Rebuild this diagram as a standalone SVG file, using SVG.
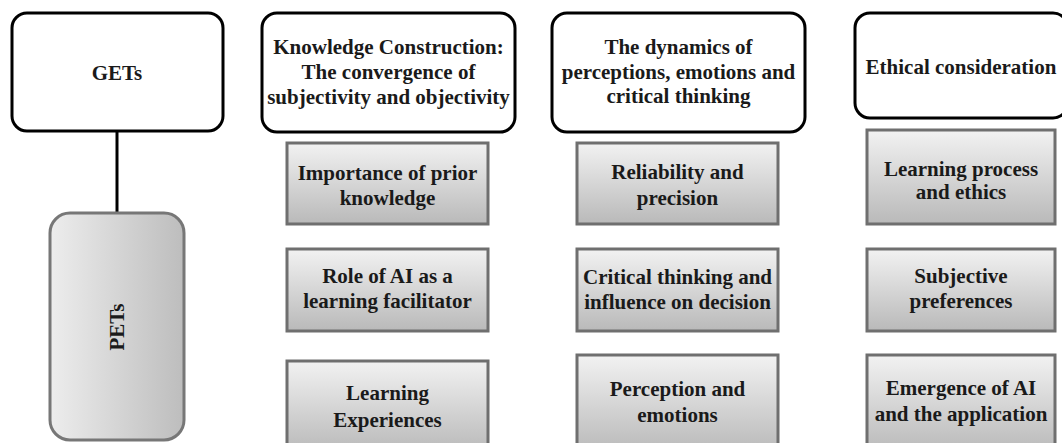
<svg xmlns="http://www.w3.org/2000/svg" width="1062" height="443" viewBox="0 0 1062 443">
  <defs>
    <linearGradient id="gradV" x1="0" y1="0" x2="0" y2="1">
      <stop offset="0" stop-color="#f2f2f2"/>
      <stop offset="1" stop-color="#b9b9b9"/>
    </linearGradient>
    <linearGradient id="gradH" x1="0" y1="0" x2="1" y2="0">
      <stop offset="0" stop-color="#ededed"/>
      <stop offset="1" stop-color="#bdbdbd"/>
    </linearGradient>
    <style>
      .head { fill: #ffffff; stroke: #000000; stroke-width: 3; }
      .item { fill: url(#gradV); stroke: #6f6f6f; stroke-width: 3; }
      .pets { fill: url(#gradH); stroke: #777777; stroke-width: 3; }
      .link { stroke: #000000; stroke-width: 3; fill: none; }
      text { font-family: "Liberation Serif", "Times New Roman", serif; font-weight: bold; font-size: 21px; fill: #1a1a1a; text-anchor: middle; }
    </style>
  </defs>
  <rect width="1062" height="443" fill="#ffffff"/>

  <!-- connectors -->
  <g id="connectors">
    <line class="link" x1="117" y1="131" x2="117" y2="213"/>
  </g>

  <!-- left stack -->
  <g id="gets">
    <rect class="head" x="12" y="13" width="211" height="118" rx="15"/>
    <text x="117" y="80">GETs</text>
  </g>
  <g id="pets">
    <rect class="pets" x="50" y="213" width="134" height="227" rx="20"/>
    <text x="0" y="0" font-size="19" transform="translate(124 327) rotate(-90)">PETs</text>
  </g>

  <!-- column: knowledge construction -->
  <g id="head-knowledge">
    <rect class="head" x="262" y="13" width="253" height="119" rx="15"/>
    <text x="388.5" y="54">Knowledge Construction:</text>
    <text x="388.5" y="79">The convergence of</text>
    <text x="388.5" y="104">subjectivity and objectivity</text>
  </g>
  <g id="prior-knowledge">
    <rect class="item" x="287" y="143" width="201" height="81"/>
    <text x="387.5" y="180">Importance of prior</text>
    <text x="387.5" y="205">knowledge</text>
  </g>
  <g id="ai-facilitator">
    <rect class="item" x="287" y="249" width="201" height="82"/>
    <text x="387.5" y="283">Role of AI as a</text>
    <text x="387.5" y="308">learning facilitator</text>
  </g>
  <g id="learning-experiences">
    <rect class="item" x="287" y="361" width="201" height="92"/>
    <text x="387.5" y="400">Learning</text>
    <text x="387.5" y="427">Experiences</text>
  </g>

  <!-- column: perceptions and emotions -->
  <g id="head-dynamics">
    <rect class="head" x="552" y="13" width="253" height="119" rx="15"/>
    <text x="678.5" y="54">The dynamics of</text>
    <text x="678.5" y="79">perceptions, emotions and</text>
    <text x="678.5" y="103">critical thinking</text>
  </g>
  <g id="reliability">
    <rect class="item" x="577" y="143" width="201" height="81"/>
    <text x="677.5" y="179">Reliability and</text>
    <text x="677.5" y="205">precision</text>
  </g>
  <g id="critical-thinking">
    <rect class="item" x="577" y="249" width="201" height="82"/>
    <text x="677.5" y="284">Critical thinking and</text>
    <text x="677.5" y="309">influence on decision</text>
  </g>
  <g id="perception-emotions">
    <rect class="item" x="577" y="355" width="201" height="98"/>
    <text x="677.5" y="396">Perception and</text>
    <text x="677.5" y="422">emotions</text>
  </g>

  <!-- column: ethics -->
  <g id="head-ethics">
    <rect class="head" x="855" y="13" width="213" height="105" rx="15"/>
    <text x="961" y="74">Ethical consideration</text>
  </g>
  <g id="learning-ethics">
    <rect class="item" x="867" y="130" width="188" height="94"/>
    <text x="961" y="176">Learning process</text>
    <text x="961" y="199">and ethics</text>
  </g>
  <g id="subjective-preferences">
    <rect class="item" x="867" y="249" width="188" height="82"/>
    <text x="961" y="283">Subjective</text>
    <text x="961" y="308">preferences</text>
  </g>
  <g id="emergence-ai">
    <rect class="item" x="867" y="355" width="188" height="98"/>
    <text x="961" y="395">Emergence of AI</text>
    <text x="961" y="421">and the application</text>
  </g>
</svg>
